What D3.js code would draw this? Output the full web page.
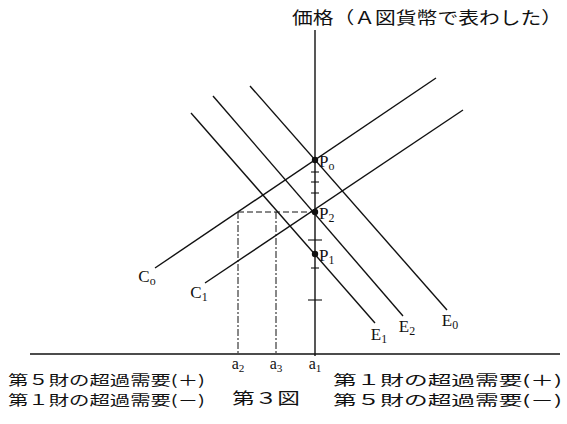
<!DOCTYPE html>
<html>
<head>
<meta charset="utf-8">
<script src="https://cdn.jsdelivr.net/npm/d3@7"></script>
<style>
  body { margin: 0; background: #fff; }
  svg { display: block; }
  .jp { font-family: "Noto Sans CJK JP", sans-serif; fill: #111; }
  .lbl { font-family: "Liberation Serif", "DejaVu Serif", serif; fill: #111; }
</style>
</head>
<body>
<div id="chart"></div>
<script>
// quantity (x) and price (y) in chart units; origin = price axis / quantity axis
const curves = [
  { name: "C", sub: "o", from: [-16.0, 8.6], to: [12.1, 27.6], label: [-16.8, 7.2] },
  { name: "C", sub: "1", from: [-11.0, 7.1], to: [14.8, 24.4], label: [-11.6, 5.6] },
  { name: "E", sub: "0", from: [-6.5, 26.8], to: [13.2, 4.4], label: [13.5, 2.8] },
  { name: "E", sub: "2", from: [-10.2, 25.8], to: [8.8, 3.8], label: [9.2, 2.2] },
  { name: "E", sub: "1", from: [-12.4, 24.1], to: [6.0, 3.1], label: [6.4, 1.4] },
];
const equilibria = [
  { name: "P", sub: "o", price: 19.4 },
  { name: "P", sub: "2", price: 14.2 },
  { name: "P", sub: "1", price: 10.0 },
];
const quantityMarks = [
  { name: "a", sub: "2", q: -7.7 },
  { name: "a", sub: "3", q: -3.9 },
  { name: "a", sub: "1", q: 0 },
];
const priceTicks = [18.2, 17.2, 16.1, 11.4, 8.6, 5.4];
const tickWide = [false, false, false, true, false, true];
const titleText = "価格（Ａ図貨幣で表わした）";
const captionLeft = ["第５財の超過需要(＋)", "第１財の超過需要(－)"];
const captionRight = ["第１財の超過需要(＋)", "第５財の超過需要(－)"];
const figureName = "第３図";

const width = 567, height = 424;
const x = d3.scaleLinear().domain([-30, 25]).range([15, 565]);
const y = d3.scaleLinear().domain([0, 32]).range([354, 34]);

const svg = d3.select("#chart").append("svg")
  .attr("width", width).attr("height", height);

// axes
svg.append("line")
  .attr("x1", x(-28.5)).attr("x2", x(24.5))
  .attr("y1", y(0)).attr("y2", y(0))
  .attr("stroke", "#111").attr("stroke-width", 1.4);
svg.append("line")
  .attr("x1", x(0)).attr("x2", x(0))
  .attr("y1", y(32.4)).attr("y2", y(-0.2))
  .attr("stroke", "#111").attr("stroke-width", 1.4);

svg.selectAll(".ptick").data(priceTicks).enter().append("line")
  .attr("x1", (d, i) => x(0) - (tickWide[i] ? 7 : 4))
  .attr("x2", (d, i) => x(0) + (tickWide[i] ? 7 : 4))
  .attr("y1", (d) => y(d)).attr("y2", (d) => y(d))
  .attr("stroke", "#111").attr("stroke-width", 1.1);

// dashed guides at price P2
const p2 = equilibria[1].price;
svg.append("line")
  .attr("x1", x(quantityMarks[0].q)).attr("x2", x(0))
  .attr("y1", y(p2)).attr("y2", y(p2))
  .attr("stroke", "#111").attr("stroke-width", 1).attr("stroke-dasharray", "6,3");
svg.selectAll(".guide").data(quantityMarks.slice(0, 2)).enter().append("line")
  .attr("x1", (d) => x(d.q)).attr("x2", (d) => x(d.q))
  .attr("y1", y(p2)).attr("y2", y(0))
  .attr("stroke", "#111").attr("stroke-width", 1).attr("stroke-dasharray", "7,2,2,2");

// curves
svg.selectAll(".curve").data(curves).enter().append("line")
  .attr("x1", (d) => x(d.from[0])).attr("y1", (d) => y(d.from[1]))
  .attr("x2", (d) => x(d.to[0])).attr("y2", (d) => y(d.to[1]))
  .attr("stroke", "#111").attr("stroke-width", 1.4);

function subLabel(sel, size) {
  sel.text((d) => d.name)
    .append("tspan")
    .attr("font-size", size * 0.7)
    .attr("dy", size * 0.2)
    .text((d) => d.sub);
}

svg.selectAll(".clabel").data(curves).enter().append("text")
  .attr("class", "lbl")
  .attr("x", (d) => x(d.label[0])).attr("y", (d) => y(d.label[1]))
  .attr("text-anchor", "middle").attr("font-size", 17)
  .call(subLabel, 17);

// equilibrium points
svg.selectAll(".pt").data(equilibria).enter().append("circle")
  .attr("cx", x(0)).attr("cy", (d) => y(d.price))
  .attr("r", 3.2).attr("fill", "#111");
svg.selectAll(".plabel").data(equilibria).enter().append("text")
  .attr("class", "lbl")
  .attr("x", x(0) + 4).attr("y", (d) => y(d.price) + 7)
  .attr("font-size", 17)
  .call(subLabel, 17);

svg.selectAll(".alabel").data(quantityMarks).enter().append("text")
  .attr("class", "lbl")
  .attr("x", (d) => x(d.q)).attr("y", y(0) + 15)
  .attr("text-anchor", "middle").attr("font-size", 16)
  .call(subLabel, 16);

// title
svg.append("text").attr("class", "jp")
  .attr("x", 292).attr("y", 24).attr("font-size", 17)
  .attr("textLength", 270).attr("lengthAdjust", "spacingAndGlyphs")
  .text(titleText);

// captions
captionLeft.forEach((t, i) => {
  svg.append("text").attr("class", "jp")
    .attr("x", 8).attr("y", 385 + i * 20).attr("font-size", 14)
    .attr("textLength", 197).attr("lengthAdjust", "spacingAndGlyphs")
    .text(t);
});
captionRight.forEach((t, i) => {
  svg.append("text").attr("class", "jp")
    .attr("x", 333).attr("y", 385 + i * 20).attr("font-size", 14)
    .attr("textLength", 229).attr("lengthAdjust", "spacingAndGlyphs")
    .text(t);
});
svg.append("text").attr("class", "jp")
  .attr("x", 232).attr("y", 404).attr("font-size", 16)
  .attr("textLength", 68).attr("lengthAdjust", "spacingAndGlyphs")
  .text(figureName);
</script>
</body>
</html>
